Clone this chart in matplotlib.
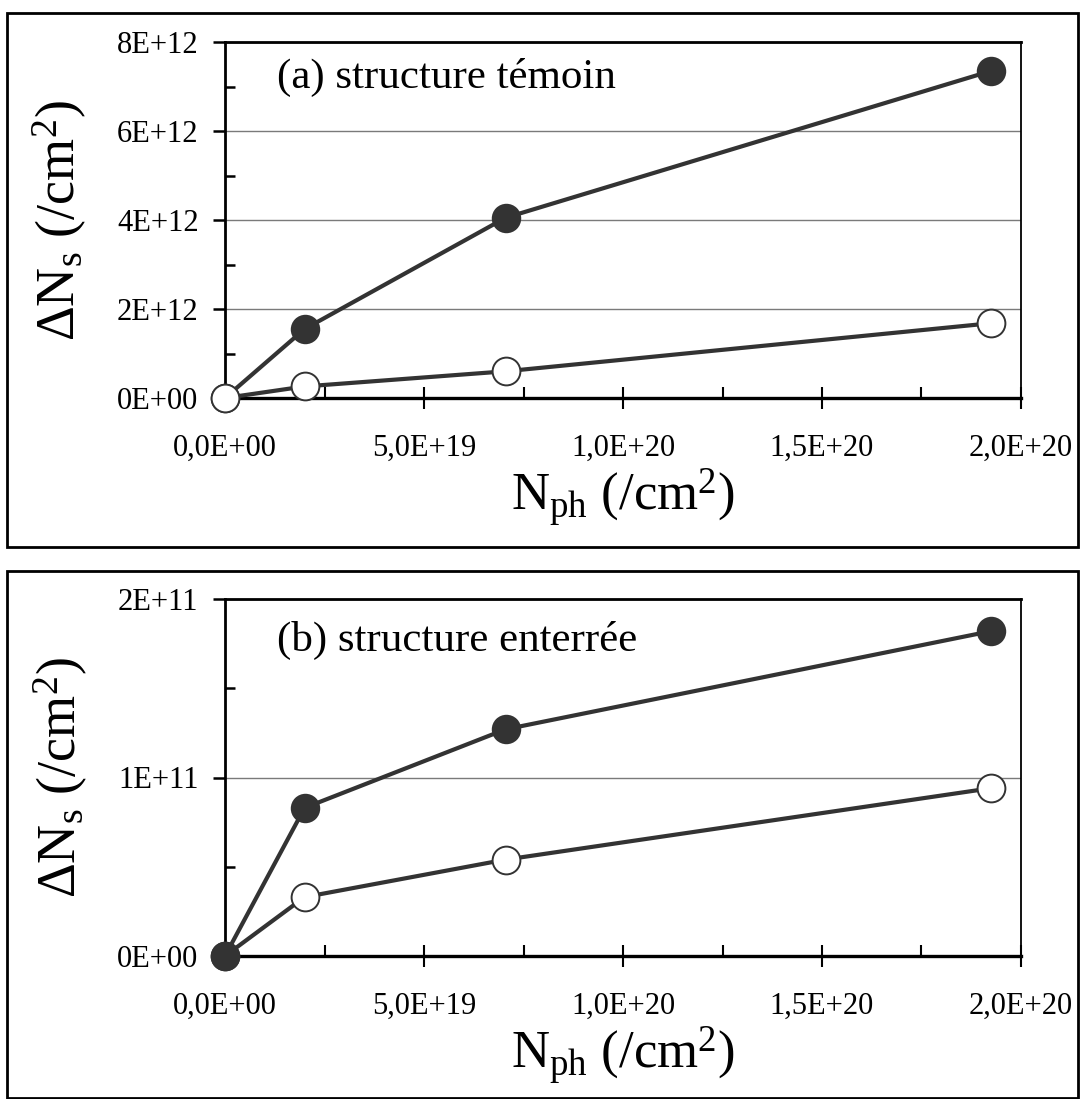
import matplotlib
matplotlib.use("Agg")
import matplotlib.pyplot as plt
from matplotlib.patches import Rectangle
from matplotlib.ticker import MultipleLocator, FuncFormatter

plt.rcParams["font.family"] = ["Liberation Serif", "DejaVu Serif"]
plt.rcParams["mathtext.fontset"] = "custom"
plt.rcParams["mathtext.rm"] = "Liberation Serif"
plt.rcParams["mathtext.it"] = "Liberation Serif:italic"

# photon fluence (/cm2)
n_ph = [0.0, 2.0e19, 7.05e19, 1.925e20]

# (a) structure temoin
a_filled = [0.0, 1.55e12, 4.05e12, 7.35e12]
a_open = [0.0, 0.26e12, 0.6e12, 1.68e12]

# (b) structure enterree
b_filled = [0.0, 0.83e11, 1.27e11, 1.82e11]
b_open = [0.0, 0.33e11, 0.54e11, 0.94e11]

x_ticks = [0.0, 5e19, 1e20, 1.5e20, 2e20]
x_ticklabels = ["0,0E+00", "5,0E+19", "1,0E+20", "1,5E+20", "2,0E+20"]

W, H = 1080, 1099
fig = plt.figure(figsize=(W / 100, H / 100), dpi=100)

line_col = "#333333"


def box(ax_rect, frame, ymax, ystep, yminor, yfmt, filled, opened, title, open_on_top):
    ax = fig.add_axes(ax_rect)

    z_f, z_o = (3, 4) if open_on_top else (4, 3)
    ax.plot(n_ph, filled, color=line_col, lw=3.0, marker="o", ms=20,
            mfc=line_col, mec=line_col, mew=1.2, zorder=z_f, clip_on=False)
    ax.plot(n_ph, opened, color=line_col, lw=3.0, marker="o", ms=20,
            mfc="white", mec=line_col, mew=1.4, zorder=z_o, clip_on=False)

    ax.set_xticks(x_ticks)
    ax.set_xticklabels(x_ticklabels)
    ax.xaxis.set_minor_locator(MultipleLocator(2.5e19))
    ax.set_xlim(0, 2e20)
    ax.set_ylim(0, ymax)
    ax.yaxis.set_major_locator(MultipleLocator(ystep))
    ax.yaxis.set_minor_locator(MultipleLocator(yminor))
    ax.yaxis.set_major_formatter(FuncFormatter(yfmt))

    ax.tick_params(axis="x", which="major", direction="inout", length=16, width=1.5,
                   pad=18, labelsize=22)
    ax.tick_params(axis="x", which="minor", direction="in", length=8, width=1.5)
    ax.tick_params(axis="y", which="major", direction="out", length=9, width=1.8,
                   pad=10, labelsize=22)
    ax.tick_params(axis="y", which="minor", direction="in", length=7, width=1.8)

    ax.grid(axis="y", which="major", color="#7a7a7a", lw=1.0)
    ax.set_axisbelow(True)
    for s in ["left", "top"]:
        ax.spines[s].set_linewidth(2.0)
    ax.spines["bottom"].set_linewidth(2.4)
    ax.spines["right"].set_linewidth(1.3)

    ax.set_xlabel("N$_\\mathrm{ph}$ (/cm$^2$)", fontsize=38, labelpad=2)
    ax.set_ylabel("ΔN$_\\mathrm{s}$ (/cm$^2$)", fontsize=39, labelpad=20)

    ax.text(0.065, 0.90 if open_on_top else 0.885, title, transform=ax.transAxes,
            fontsize=31, ha="left", va="center")

    # outer frame around the panel
    x0, y0, x1, y1 = frame
    fig.patches.append(Rectangle((x0 / W, 1 - y1 / H), (x1 - x0) / W, (y1 - y0) / H,
                                 transform=fig.transFigure, fill=False,
                                 ec="black", lw=2.0))
    return ax


box([225 / W, 1 - 398 / H, 796 / W, 356 / H], (7, 13, 1078, 547),
    8e12, 2e12, 1e12, lambda v, p: f"{int(round(v / 1e12))}E+12" if v > 0 else "0E+00",
    a_filled, a_open, "(a) structure témoin", True)

box([225 / W, 1 - 956 / H, 796 / W, 357 / H], (7, 571, 1078, 1098),
    2e11, 1e11, 0.5e11, lambda v, p: f"{int(round(v / 1e11))}E+11" if v > 0 else "0E+00",
    b_filled, b_open, "(b) structure enterrée", False)

fig.savefig("out.png", dpi=100)
